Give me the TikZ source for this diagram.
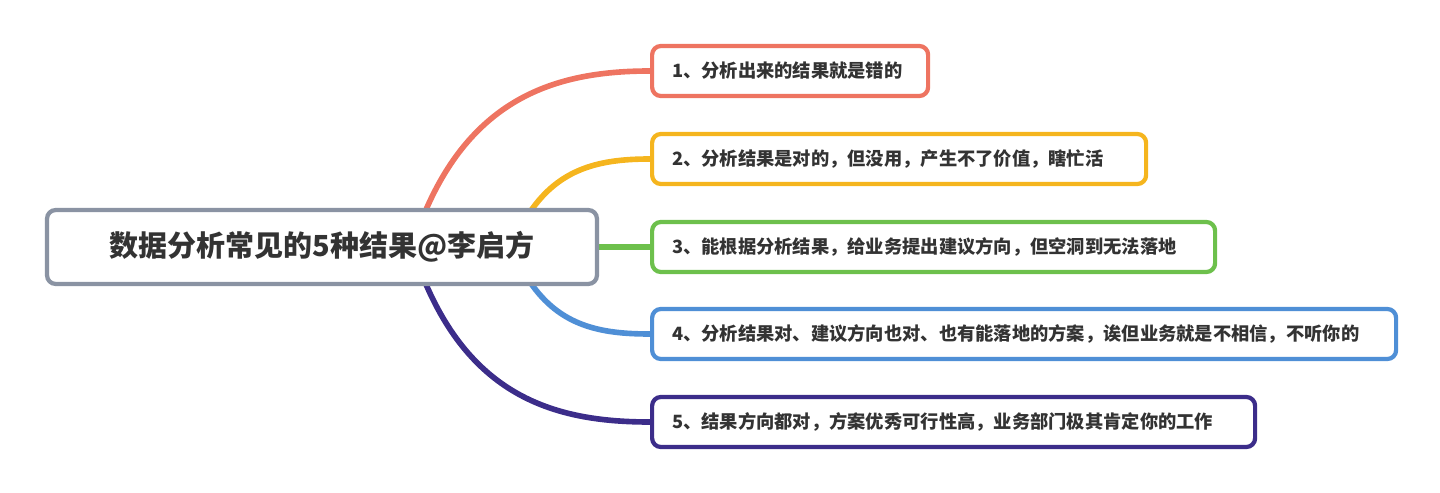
\documentclass[tikz,border=0pt]{standalone}
\usepackage{fontspec}
\setmainfont{Noto Sans CJK SC}
\definecolor{cred}{HTML}{EE7461}
\definecolor{cyel}{HTML}{F5B51E}
\definecolor{cgrn}{HTML}{6DC04C}
\definecolor{cblu}{HTML}{4F8FD6}
\definecolor{cpur}{HTML}{3C2D8A}
\definecolor{cgry}{HTML}{8A93A3}
\tikzset{
  item/.style={draw=#1, line width=2.4pt, rounded corners=5pt, anchor=west,
    minimum height=50*0.02cm, inner xsep=20*0.02cm, font=\bfseries\fontsize{10.4}{12}\selectfont,
    text=black!80, fill=white, align=left},
  branch/.style={draw=#1, line width=3.2pt}
}
\begin{document}
\begin{tikzpicture}[x=0.02cm,y=-0.02cm]
\useasboundingbox (0,0) rectangle (1440,493);
% branches
\draw[branch=cred] (425,212) .. controls (475,95) and (560,71) .. (650,71);
\draw[branch=cyel] (530,212) .. controls (560,168) and (600,159) .. (650,159);
\draw[branch=cgrn] (597,247) -- (650,247);
\draw[branch=cblu] (530,282) .. controls (560,326) and (600,334) .. (650,334);
\draw[branch=cpur] (425,282) .. controls (475,400) and (560,422) .. (650,422);
% root
\node[draw=cgry, line width=2.4pt, rounded corners=5pt, fill=white,
  minimum width=550*0.02cm, minimum height=74*0.02cm,
  font=\bfseries\fontsize{16.5}{19}\selectfont, text=black!80] (root) at (322,247) {数据分析常见的5种结果@李启方};
% items
\node[item=cred, text width=236*0.02cm] (r1) at (650,71) {1、分析出来的结果就是错的};
\node[item=cyel, text width=454*0.02cm] (r2) at (650,159) {2、分析结果是对的，但没用，产生不了价值，瞎忙活};
\node[item=cgrn, text width=523*0.02cm] (r3) at (650,247) {3、能根据分析结果，给业务提出建议方向，但空洞到无法落地};
\node[item=cblu, text width=704*0.02cm] (r4) at (650,334) {4、分析结果对、建议方向也对、也有能落地的方案，诶但业务就是不相信，不听你的};
\node[item=cpur, text width=563*0.02cm] (r5) at (650,422) {5、结果方向都对，方案优秀可行性高，业务部门极其肯定你的工作};
\end{tikzpicture}
\end{document}
